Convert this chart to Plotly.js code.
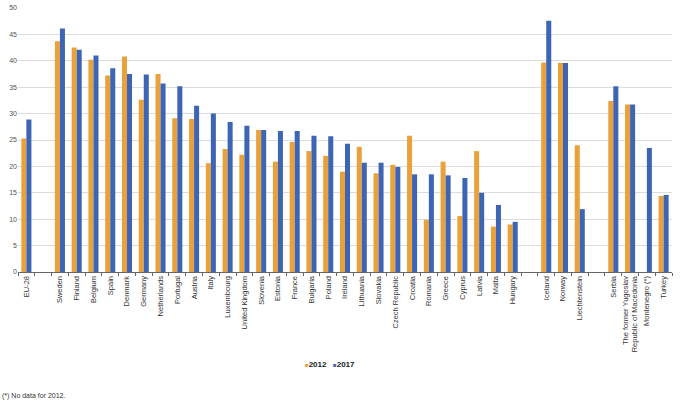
<!DOCTYPE html>
<html>
<head>
<meta charset="utf-8">
<script src="https://cdn.plot.ly/plotly-3.0.1.min.js"></script>
<style>
html,body{margin:0;padding:0;background:#fff;}
#chart{width:682px;height:403px;}
</style>
</head>
<body>
<div id="chart"></div>
<script>
const categories = ["EU-28", " ", "Sweden", "Finland", "Belgium", "Spain", "Denmark", "Germany", "Netherlands", "Portugal", "Austria", "Italy", "Luxembourg", "United Kingdom", "Slovenia", "Estonia", "France", "Bulgaria", "Poland", "Ireland", "Lithuania", "Slovakia", "Czech Republic", "Croatia", "Romania", "Greece", "Cyprus", "Latvia", "Malta", "Hungary", "  ", "Iceland", "Norway", "Liechtenstein", "   ", "Serbia", "The former Yugoslav<br>Republic of Macedonia", "Montenegro (*)", "Turkey"];
const values2012 = [25.3, null, 43.7, 42.5, 40.2, 37.2, 40.8, 32.6, 37.5, 29.1, 29.0, 20.6, 23.3, 22.2, 26.9, 20.9, 24.6, 22.9, 22.0, 19.0, 23.7, 18.7, 20.3, 25.8, 9.9, 20.9, 10.6, 22.9, 8.6, 9.0, null, 39.7, 39.6, 24.0, null, 32.4, 31.7, null, 14.4];
const values2017 = [28.9, null, 46.1, 42.1, 41.0, 38.6, 37.5, 37.4, 35.7, 35.2, 31.5, 30.0, 28.4, 27.7, 26.9, 26.7, 26.7, 25.8, 25.7, 24.3, 20.7, 20.7, 19.9, 18.5, 18.5, 18.3, 17.8, 15.0, 12.7, 9.5, null, 47.6, 39.6, 11.9, null, 35.2, 31.7, 23.5, 14.6];
const seriesNames = ["2012", "2017"];
const seriesColors = ["#E9A23B", "#3E65B3"];
const footnote = "(*) No data for 2012.";

const traces = [
  {type: "bar", name: seriesNames[0], x: categories, y: values2012, marker: {color: seriesColors[0]}},
  {type: "bar", name: seriesNames[1], x: categories, y: values2017, marker: {color: seriesColors[1]}}
];

const legendText = seriesNames.map((n, i) =>
  '<span style="color:' + seriesColors[i] + ';font-size:6px">■</span><b>' + n + '</b>').join('&nbsp;&nbsp;&nbsp;');

const layout = {
  width: 682, height: 403,
  margin: {l: 18, r: 10, t: 8, b: 131},
  paper_bgcolor: "#fff", plot_bgcolor: "#fff",
  font: {family: "Liberation Sans, Arial, sans-serif", size: 7, color: "#444"},
  barmode: "group", bargap: 0.4, bargroupgap: 0,
  showlegend: false,
  xaxis: {type: "category", categoryorder: "array", categoryarray: categories,
          tickangle: -90, tickson: "boundaries", ticks: "outside", ticklen: 3, tickcolor: "#666",
          showline: true, linecolor: "#666", linewidth: 1, showgrid: false,
          tickfont: {size: 7.5, color: "#333"}, automargin: false, fixedrange: true},
  yaxis: {range: [0, 50], dtick: 5, showgrid: true, gridcolor: "#dcdcdc", gridwidth: 1,
          zeroline: false, showline: false, ticks: "", tickfont: {size: 7, color: "#555"},
          automargin: false, fixedrange: true},
  annotations: [
    {text: legendText, xref: "paper", yref: "paper", x: 0.477, xanchor: "center",
     y: -0.352, yanchor: "middle", showarrow: false, font: {size: 8, color: "#222"}},
    {text: footnote, xref: "paper", yref: "paper", x: -0.027, xanchor: "left",
     y: -0.47, yanchor: "middle", showarrow: false, font: {size: 7, color: "#333"}}
  ]
};

Plotly.newPlot("chart", traces, layout, {displayModeBar: false, staticPlot: true});
</script>
</body>
</html>
